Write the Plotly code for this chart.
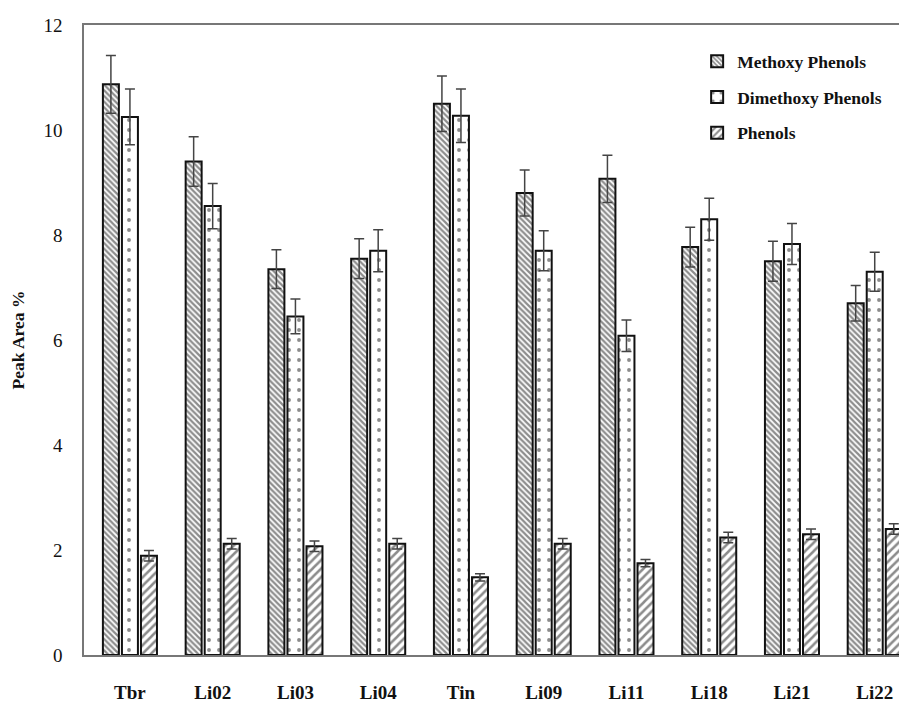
import plotly.graph_objects as go

categories = ["Tbr", "Li02", "Li03", "Li04", "Tin", "Li09", "Li11", "Li18", "Li21", "Li22"]
methoxy = [10.87, 9.40, 7.35, 7.55, 10.50, 8.80, 9.07, 7.77, 7.50, 6.70]
methoxy_err = [0.55, 0.47, 0.37, 0.38, 0.53, 0.44, 0.45, 0.38, 0.38, 0.34]
dimethoxy = [10.25, 8.55, 6.45, 7.70, 10.27, 7.70, 6.08, 8.30, 7.83, 7.30]
dimethoxy_err = [0.53, 0.43, 0.33, 0.40, 0.51, 0.38, 0.30, 0.40, 0.39, 0.37]
phenols = [1.89, 2.12, 2.07, 2.12, 1.48, 2.12, 1.75, 2.24, 2.30, 2.40]
phenols_err = [0.10, 0.10, 0.10, 0.10, 0.07, 0.10, 0.07, 0.10, 0.10, 0.10]

serif = "Liberation Serif, Times New Roman, serif"

fig = go.Figure()

def add(name, vals, errs, shape, size, solidity):
    fig.add_trace(go.Bar(
        name=name, x=categories, y=vals, legendgroup=name,
        marker=dict(color="white", line=dict(color="#111", width=2),
                    pattern=dict(shape=shape, size=size, solidity=solidity,
                                 fgcolor="#1a1a1a", bgcolor="white")),
        error_y=dict(type="data", array=errs, visible=True, color="#444",
                     thickness=1.5, width=5),
    ))

add("Methoxy Phenols", methoxy, methoxy_err, "\\", 4, 0.55)
add("Dimethoxy Phenols", dimethoxy, dimethoxy_err, ".", 10, 0.12)
add("Phenols", phenols, phenols_err, "/", 6, 0.42)

fig.update_layout(
    width=899, height=711,
    margin=dict(l=76, r=0, t=17, b=64, autoexpand=False),
    paper_bgcolor="white", plot_bgcolor="white",
    barmode="group", bargap=0.31, bargroupgap=0.16,
    font=dict(family=serif, color="#111", size=17),
    showlegend=True,
    legend=dict(x=0.745, y=0.971, xanchor="left", yanchor="top",
                font=dict(family=serif, size=17.5, color="#111", weight="bold"),
                bgcolor="rgba(0,0,0,0)", traceorder="grouped", tracegroupgap=10,
                itemwidth=30),
    xaxis=dict(range=[-0.555, 9.39], showline=True, linecolor="#777", linewidth=1.5,
               mirror=True, ticks="", showgrid=False, ticklabelstandoff=19,
               tickfont=dict(family=serif, size=19, color="#111", weight="bold")),
    yaxis=dict(range=[0, 12], dtick=2, showline=True, linecolor="#777", linewidth=1.5,
               mirror=True, ticks="", showgrid=False, zeroline=False, ticklabelstandoff=16,
               tickfont=dict(family=serif, size=19, color="#111"),
               title=dict(text="Peak Area %", standoff=16,
                          font=dict(family=serif, size=17.5, color="#111", weight="bold"))),
)

fig.write_html("out.html")
